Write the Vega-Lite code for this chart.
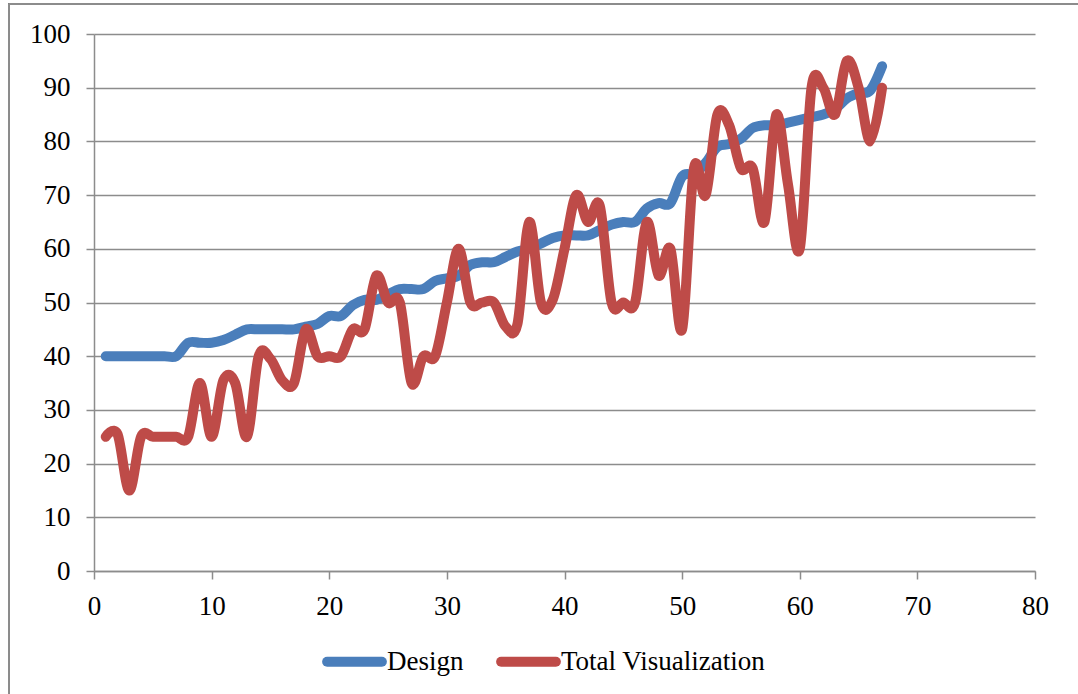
{
  "$schema": "https://vega.github.io/schema/vega-lite/v6.json",
  "autosize": "none",
  "width": 941,
  "height": 537,
  "padding": {"left": 94, "top": 34, "right": 43, "bottom": 123},
  "background": "white",
  "config": {
    "view": {"stroke": null},
    "font": "Liberation Serif",
    "axis": {
      "labelFont": "Liberation Serif",
      "labelFontSize": 27,
      "labelColor": "#000000",
      "domainColor": "#8C8C8C",
      "domainWidth": 1.5,
      "tickColor": "#8C8C8C",
      "tickWidth": 1.5,
      "tickSize": 8,
      "gridColor": "#8C8C8C",
      "gridWidth": 1.5,
      "title": null
    },
    "legend": {
      "labelFont": "Liberation Serif",
      "labelFontSize": 27,
      "labelColor": "#000000",
      "labelLimit": 0
    }
  },
  "data": {
    "values": [
      {"x": 1, "series": "Design", "value": 40},
      {"x": 2, "series": "Design", "value": 40},
      {"x": 3, "series": "Design", "value": 40},
      {"x": 4, "series": "Design", "value": 40},
      {"x": 5, "series": "Design", "value": 40},
      {"x": 6, "series": "Design", "value": 40},
      {"x": 7, "series": "Design", "value": 40},
      {"x": 8, "series": "Design", "value": 42.5},
      {"x": 9, "series": "Design", "value": 42.5},
      {"x": 10, "series": "Design", "value": 42.5},
      {"x": 11, "series": "Design", "value": 43},
      {"x": 12, "series": "Design", "value": 44},
      {"x": 13, "series": "Design", "value": 45},
      {"x": 14, "series": "Design", "value": 45},
      {"x": 15, "series": "Design", "value": 45},
      {"x": 16, "series": "Design", "value": 45},
      {"x": 17, "series": "Design", "value": 45},
      {"x": 18, "series": "Design", "value": 45.5},
      {"x": 19, "series": "Design", "value": 46},
      {"x": 20, "series": "Design", "value": 47.5},
      {"x": 21, "series": "Design", "value": 47.5},
      {"x": 22, "series": "Design", "value": 49.5},
      {"x": 23, "series": "Design", "value": 50.5},
      {"x": 24, "series": "Design", "value": 50.5},
      {"x": 25, "series": "Design", "value": 51.5},
      {"x": 26, "series": "Design", "value": 52.5},
      {"x": 27, "series": "Design", "value": 52.5},
      {"x": 28, "series": "Design", "value": 52.5},
      {"x": 29, "series": "Design", "value": 54},
      {"x": 30, "series": "Design", "value": 54.5},
      {"x": 31, "series": "Design", "value": 55},
      {"x": 32, "series": "Design", "value": 57},
      {"x": 33, "series": "Design", "value": 57.5},
      {"x": 34, "series": "Design", "value": 57.5},
      {"x": 35, "series": "Design", "value": 58.5},
      {"x": 36, "series": "Design", "value": 59.5},
      {"x": 37, "series": "Design", "value": 60},
      {"x": 38, "series": "Design", "value": 61},
      {"x": 39, "series": "Design", "value": 62},
      {"x": 40, "series": "Design", "value": 62.5},
      {"x": 41, "series": "Design", "value": 62.5},
      {"x": 42, "series": "Design", "value": 62.5},
      {"x": 43, "series": "Design", "value": 63.5},
      {"x": 44, "series": "Design", "value": 64.5},
      {"x": 45, "series": "Design", "value": 65},
      {"x": 46, "series": "Design", "value": 65},
      {"x": 47, "series": "Design", "value": 67.5},
      {"x": 48, "series": "Design", "value": 68.5},
      {"x": 49, "series": "Design", "value": 68.5},
      {"x": 50, "series": "Design", "value": 73.5},
      {"x": 51, "series": "Design", "value": 74},
      {"x": 52, "series": "Design", "value": 76},
      {"x": 53, "series": "Design", "value": 79},
      {"x": 54, "series": "Design", "value": 79.5},
      {"x": 55, "series": "Design", "value": 80.5},
      {"x": 56, "series": "Design", "value": 82.5},
      {"x": 57, "series": "Design", "value": 83},
      {"x": 58, "series": "Design", "value": 83},
      {"x": 59, "series": "Design", "value": 83.5},
      {"x": 60, "series": "Design", "value": 84},
      {"x": 61, "series": "Design", "value": 84.5},
      {"x": 62, "series": "Design", "value": 85},
      {"x": 63, "series": "Design", "value": 86},
      {"x": 64, "series": "Design", "value": 88},
      {"x": 65, "series": "Design", "value": 89},
      {"x": 66, "series": "Design", "value": 89.5},
      {"x": 67, "series": "Design", "value": 94},
      {"x": 1, "series": "Total Visualization", "value": 25},
      {"x": 2, "series": "Total Visualization", "value": 25.5},
      {"x": 3, "series": "Total Visualization", "value": 15},
      {"x": 4, "series": "Total Visualization", "value": 25},
      {"x": 5, "series": "Total Visualization", "value": 25},
      {"x": 6, "series": "Total Visualization", "value": 25},
      {"x": 7, "series": "Total Visualization", "value": 25},
      {"x": 8, "series": "Total Visualization", "value": 25},
      {"x": 9, "series": "Total Visualization", "value": 35},
      {"x": 10, "series": "Total Visualization", "value": 25},
      {"x": 11, "series": "Total Visualization", "value": 35.5},
      {"x": 12, "series": "Total Visualization", "value": 35},
      {"x": 13, "series": "Total Visualization", "value": 25},
      {"x": 14, "series": "Total Visualization", "value": 40},
      {"x": 15, "series": "Total Visualization", "value": 39.5},
      {"x": 16, "series": "Total Visualization", "value": 35.5},
      {"x": 17, "series": "Total Visualization", "value": 35},
      {"x": 18, "series": "Total Visualization", "value": 45},
      {"x": 19, "series": "Total Visualization", "value": 40},
      {"x": 20, "series": "Total Visualization", "value": 40},
      {"x": 21, "series": "Total Visualization", "value": 40},
      {"x": 22, "series": "Total Visualization", "value": 45},
      {"x": 23, "series": "Total Visualization", "value": 45},
      {"x": 24, "series": "Total Visualization", "value": 55},
      {"x": 25, "series": "Total Visualization", "value": 50},
      {"x": 26, "series": "Total Visualization", "value": 50},
      {"x": 27, "series": "Total Visualization", "value": 35},
      {"x": 28, "series": "Total Visualization", "value": 40},
      {"x": 29, "series": "Total Visualization", "value": 40},
      {"x": 30, "series": "Total Visualization", "value": 50},
      {"x": 31, "series": "Total Visualization", "value": 60},
      {"x": 32, "series": "Total Visualization", "value": 50},
      {"x": 33, "series": "Total Visualization", "value": 50},
      {"x": 34, "series": "Total Visualization", "value": 50},
      {"x": 35, "series": "Total Visualization", "value": 45.5},
      {"x": 36, "series": "Total Visualization", "value": 46},
      {"x": 37, "series": "Total Visualization", "value": 65},
      {"x": 38, "series": "Total Visualization", "value": 50},
      {"x": 39, "series": "Total Visualization", "value": 50.5},
      {"x": 40, "series": "Total Visualization", "value": 60},
      {"x": 41, "series": "Total Visualization", "value": 70},
      {"x": 42, "series": "Total Visualization", "value": 65},
      {"x": 43, "series": "Total Visualization", "value": 68},
      {"x": 44, "series": "Total Visualization", "value": 50},
      {"x": 45, "series": "Total Visualization", "value": 50},
      {"x": 46, "series": "Total Visualization", "value": 50},
      {"x": 47, "series": "Total Visualization", "value": 65},
      {"x": 48, "series": "Total Visualization", "value": 55},
      {"x": 49, "series": "Total Visualization", "value": 60},
      {"x": 50, "series": "Total Visualization", "value": 45},
      {"x": 51, "series": "Total Visualization", "value": 75},
      {"x": 52, "series": "Total Visualization", "value": 70},
      {"x": 53, "series": "Total Visualization", "value": 85},
      {"x": 54, "series": "Total Visualization", "value": 83},
      {"x": 55, "series": "Total Visualization", "value": 75},
      {"x": 56, "series": "Total Visualization", "value": 75},
      {"x": 57, "series": "Total Visualization", "value": 65},
      {"x": 58, "series": "Total Visualization", "value": 85},
      {"x": 59, "series": "Total Visualization", "value": 72},
      {"x": 60, "series": "Total Visualization", "value": 60},
      {"x": 61, "series": "Total Visualization", "value": 90},
      {"x": 62, "series": "Total Visualization", "value": 90},
      {"x": 63, "series": "Total Visualization", "value": 85},
      {"x": 64, "series": "Total Visualization", "value": 95},
      {"x": 65, "series": "Total Visualization", "value": 90},
      {"x": 66, "series": "Total Visualization", "value": 80},
      {"x": 67, "series": "Total Visualization", "value": 90}
    ]
  },
  "layer": [
    {
      "mark": {"type": "rule", "color": "#8C8C8C", "strokeWidth": 1.5},
      "encoding": {
        "x": {"datum": -7.23, "type": "quantitative"},
        "x2": {"datum": 84},
        "y": {"datum": 105.6, "type": "quantitative"}
      }
    },
    {
      "mark": {"type": "rule", "color": "#8C8C8C", "strokeWidth": 1.5},
      "encoding": {
        "x": {"datum": -7.23, "type": "quantitative"},
        "y": {"datum": 105.6, "type": "quantitative"},
        "y2": {"datum": -23}
      }
    },
    {
      "mark": {"type": "line", "interpolate": "cardinal", "strokeWidth": 10, "strokeCap": "round", "strokeJoin": "round"},
      "encoding": {
        "x": {
          "field": "x",
          "type": "quantitative",
          "scale": {"domain": [0, 80], "nice": false, "zero": false},
          "axis": {"values": [0, 10, 20, 30, 40, 50, 60, 70, 80], "grid": false, "labelPadding": 14, "labelFlush": false}
        },
        "y": {
          "field": "value",
          "type": "quantitative",
          "scale": {"domain": [0, 100], "nice": false},
          "axis": {"values": [0, 10, 20, 30, 40, 50, 60, 70, 80, 90, 100], "grid": true, "labelPadding": 16}
        },
        "color": {
          "field": "series",
          "type": "nominal",
          "sort": ["Design", "Total Visualization"],
          "scale": {"domain": ["Design", "Total Visualization"], "range": ["#4A7EBB", "#BE4B48"]},
          "legend": {
            "title": null,
            "orient": "none",
            "direction": "horizontal",
            "legendX": 223,
            "legendY": 595,
            "symbolType": "stroke",
            "symbolSize": 3000,
            "symbolStrokeWidth": 10,
            "labelOffset": 0,
            "columnPadding": 17,
            "padding": 0,
            "symbolOffset": 5,
            "encode": {"symbols": {"update": {"strokeCap": {"value": "round"}}}}
          }
        }
      }
    }
  ]
}
